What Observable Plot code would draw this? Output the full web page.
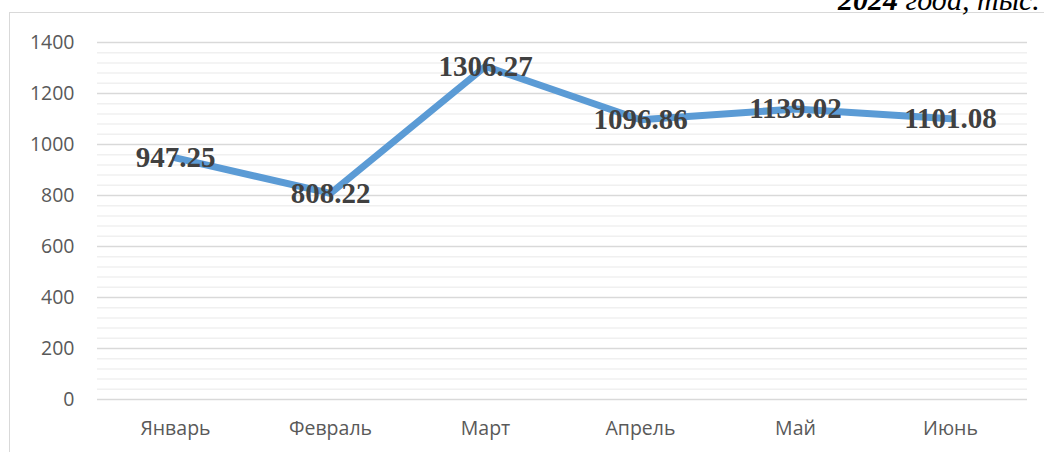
<!DOCTYPE html>
<html>
<head>
<meta charset="utf-8">
<script src="https://cdn.jsdelivr.net/npm/d3@7"></script>
<script src="https://cdn.jsdelivr.net/npm/@observablehq/plot@0.6"></script>
<style>
  html, body { margin: 0; padding: 0; background: #fff; }
  #wrap { position: relative; width: 1044px; height: 452px; overflow: hidden; }
  #frame { position: absolute; left: 9px; top: 12px; width: 1100px; height: 500px;
           border-left: 1.5px solid #d9d9d9; border-top: 1.5px solid #d9d9d9; }
  #title { position: absolute; left: 838px; top: -15px; white-space: nowrap;
           font-family: "Liberation Serif", "Times New Roman", serif; font-style: italic;
           font-size: 30px; color: #000; line-height: 30px; }
  #title b { font-weight: bold; }
  #chart { position: absolute; left: 0; top: 0; }
</style>
</head>
<body>
<div id="wrap">
  <div id="frame"></div>
  <div id="title"><b>2024</b> года, тыс. руб.</div>
  <div id="chart"></div>
</div>
<script>
const months = ["Январь", "Февраль", "Март", "Апрель", "Май", "Июнь"];
const values = [947.25, 808.22, 1306.27, 1096.86, 1139.02, 1101.08];
const labels = ["947.25", "808.22", "1306.27", "1096.86", "1139.02", "1101.08"];
const majorTicks = [0, 200, 400, 600, 800, 1000, 1200, 1400];
const minorTicks = d3.range(0, 1400, 40).filter(v => v % 200 !== 0);

const data = months.map((m, i) => ({month: m, value: values[i], label: labels[i]}));

const chart = Plot.plot({
  width: 1044,
  height: 452,
  marginLeft: 97,
  marginRight: 17,
  marginTop: 42,
  marginBottom: 53,
  style: {background: "transparent", overflow: "visible"},
  x: {type: "point", domain: months, padding: 0.5, label: null},
  y: {domain: [0, 1400], label: null},
  marks: [
    Plot.ruleY(minorTicks, {stroke: "#f0f0f0", strokeWidth: 1.5}),
    Plot.ruleY(majorTicks, {stroke: "#d9d9d9", strokeWidth: 1.5}),
    Plot.axisY({ticks: majorTicks, tickSize: 0, tickPadding: 23, label: null,
      fontSize: 19.5, fontFamily: "Open Sans, Liberation Sans, sans-serif", fill: "#595959", tickFormat: d => String(d)}),
    Plot.axisX({tickSize: 0, tickPadding: 22, label: null,
      fontSize: 19.5, fontFamily: "Open Sans, Liberation Sans, sans-serif", fill: "#595959"}),
    Plot.line(data, {x: "month", y: "value", stroke: "#5b9bd5", strokeWidth: 7, strokeLinejoin: "round", strokeLinecap: "round"}),
    Plot.text(data, {x: "month", y: "value", text: "label", textAnchor: "middle", lineAnchor: "middle",
      fontSize: 29, fontWeight: "bold", fontFamily: "Liberation Serif, Times New Roman, serif", fill: "#404040"})
  ]
});
document.getElementById("chart").appendChild(chart);
</script>
</body>
</html>
